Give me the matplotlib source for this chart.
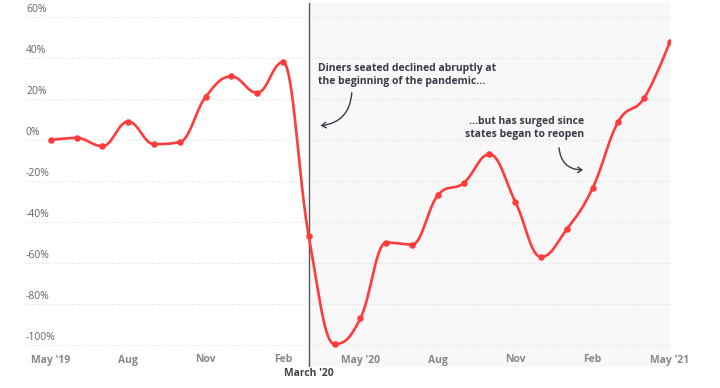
import numpy as np
import matplotlib.pyplot as plt
from matplotlib.patches import FancyArrowPatch

plt.rcParams['font.family'] = ['Open Sans', 'DejaVu Sans']

# monthly change in diners seated, May 2019 .. May 2021
months = np.arange(25)
change = np.array([0, 1, -3, 9, -2, -1, 21, 31, 23, 38,
                   -47, -99.5, -87, -50, -51, -27, -21, -7,
                   -30, -57, -43.5, -23.5, 9, 20.5, 48])

tick_pos = [0, 3, 6, 9, 12, 15, 18, 21, 24]
tick_lab = ["May '19", "Aug", "Nov", "Feb", "May '20", "Aug", "Nov", "Feb", "May '21"]
y_ticks = [60, 40, 20, 0, -20, -40, -60, -80, -100]
march_idx = 10

RED = '#ff3b3b'
DARK = '#3a3a48'


def hc_spline(x, y, smoothing=1.5, n=30):
    # highcharts-like spline through the points
    denom = smoothing + 1
    N = len(x)
    lc = [None] * N
    rc = [None] * N
    for i in range(1, N - 1):
        px, py = x[i], y[i]
        lx, ly = x[i - 1], y[i - 1]
        nx, ny = x[i + 1], y[i + 1]
        lcx = (smoothing * px + lx) / denom
        lcy = (smoothing * py + ly) / denom
        rcx = (smoothing * px + nx) / denom
        rcy = (smoothing * py + ny) / denom
        corr = (rcy - lcy) * (rcx - px) / (rcx - lcx) + py - rcy
        lcy += corr
        rcy += corr
        if lcy > ly and lcy > py:
            lcy = max(ly, py); rcy = 2 * py - lcy
        elif lcy < ly and lcy < py:
            lcy = min(ly, py); rcy = 2 * py - lcy
        if rcy > ny and rcy > py:
            rcy = max(ny, py); lcy = 2 * py - rcy
        elif rcy < ny and rcy < py:
            rcy = min(ny, py); lcy = 2 * py - rcy
        lc[i] = (lcx, lcy)
        rc[i] = (rcx, rcy)
    xs, ys = [x[0]], [y[0]]
    t = np.linspace(0, 1, n)[1:]
    for i in range(1, N):
        p0 = (x[i - 1], y[i - 1])
        p1 = rc[i - 1] if rc[i - 1] else p0
        p3 = (x[i], y[i])
        p2 = lc[i] if lc[i] else p3
        for k in range(2):
            v = ((1 - t) ** 3 * p0[k] + 3 * (1 - t) ** 2 * t * p1[k]
                 + 3 * (1 - t) * t ** 2 * p2[k] + t ** 3 * p3[k])
            (xs if k == 0 else ys).extend(v)
    return np.array(xs), np.array(ys)


fig = plt.figure(figsize=(7.2, 3.88), dpi=100)
W, H = 720, 388
ax = fig.add_axes([25 / W, 1 - 367 / H, 645 / W, 364 / H])
ax.set_xlim(-1.0, 24)
ax.set_ylim(-110.7, 66.8)
ax.axis('off')

ax.axvspan(march_idx, 24, color='#f8f8f8', zorder=0, lw=0)
ax.axvline(march_idx, color='#555555', lw=1, zorder=1)

for v in y_ticks:
    ax.axhline(v, color='#dddddd', lw=0.8, ls=(0, (1, 2)), zorder=0.5)
    ax.annotate(f'{v}%', xy=(0, v), xycoords=('axes fraction', 'data'),
                xytext=(1, 2), textcoords='offset pixels',
                ha='left', va='bottom', fontsize=7.5, color='#666666')

for p, lab in zip(tick_pos, tick_lab):
    ax.annotate(lab, xy=(p, 0), xycoords=('data', 'axes fraction'),
                xytext=(0, 7), textcoords='offset pixels',
                ha='center', va='center', fontsize=7.5, color='#888888',
                fontweight='bold', annotation_clip=False)

ax.annotate("March '20", xy=(march_idx, 0), xycoords=('data', 'axes fraction'),
            xytext=(0, -7), textcoords='offset pixels',
            ha='center', va='center', fontsize=7.5, color='#444444',
            fontweight='bold', annotation_clip=False)

sx, sy = hc_spline(months.astype(float), change)
ax.plot(sx, sy, color=RED, lw=1.9, zorder=3, solid_capstyle='round')
ax.scatter(months, change, s=22, color=RED, zorder=4, lw=0)

ax.text(10.35, 31.7, 'Diners seated declined abruptly at\nthe beginning of the pandemic...',
        ha='left', va='center', fontsize=7.5, fontweight='bold', color=DARK,
        linespacing=1.25)
ax.text(20.66, 5.85, '...but has surged since\nstates began to reopen',
        ha='right', va='center', fontsize=7.5, fontweight='bold', color=DARK,
        linespacing=1.25)

ax.add_patch(FancyArrowPatch((11.67, 24.4), (10.35, 6.8),
                             connectionstyle='arc3,rad=-0.45',
                             arrowstyle='->,head_length=3,head_width=2',
                             color=DARK, lw=1, zorder=5))
ax.add_patch(FancyArrowPatch((19.69, -2.4), (20.74, -14.6),
                             connectionstyle='arc3,rad=0.5',
                             arrowstyle='->,head_length=3,head_width=2',
                             color=DARK, lw=1, zorder=5))

fig.savefig('out.png', dpi=100, facecolor='white')
